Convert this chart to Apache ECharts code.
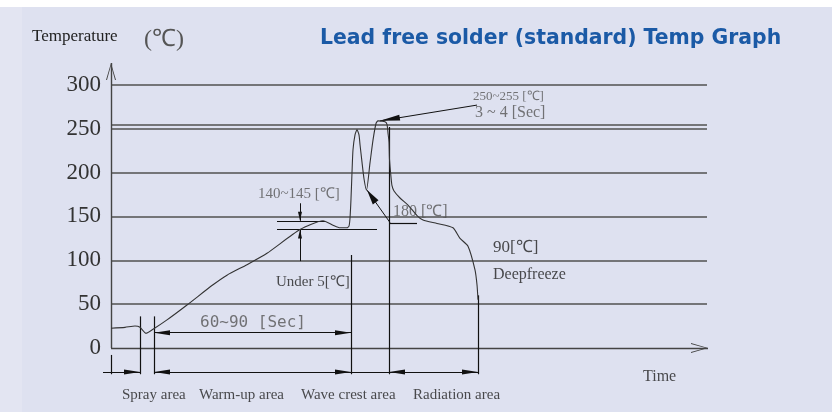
<!DOCTYPE html>
<html>
<head>
<meta charset="utf-8">
<script src="https://cdn.jsdelivr.net/npm/echarts@6/dist/echarts.min.js"></script>
<style>
  html, body { margin: 0; padding: 0; background: #fff; }
  #main {
    width: 832px; height: 412px;
    background:
      linear-gradient(to bottom, #fff 0, #fff 7px, transparent 7px),
      linear-gradient(to right, #e3e5f2 0, #e3e5f2 22px, #dee1f0 22px);
  }
</style>
</head>
<body>
<div id="main"></div>
<script>
// temperature axis
const tempTicks = [0, 50, 100, 150, 200, 250, 300];
const gridTemps = [50, 100, 150, 200, 250, 255, 300];

// reflow curve (time units, °C)
const curveTime = [0, 14, 24, 29, 35, 42, 56, 76, 102, 116, 136, 156, 189, 212, 222, 229, 236,
  238, 239, 240, 241, 242, 244, 246, 248, 249, 251, 253, 255.5, 259, 262, 265, 267, 274, 276,
  277, 278, 278.5, 280, 281, 283, 289, 297, 306, 312, 326, 342, 349, 357, 364, 366, 367];
const curveTemp = [22.5, 23.5, 25, 23.6, 16.7, 21.3, 32, 49, 72, 83, 95, 108, 135, 145, 140, 137, 137,
  139, 148, 170, 200, 226, 243, 249, 243, 232, 212, 193, 180, 211, 237, 256, 259, 258, 255,
  245, 235, 215, 195, 185, 179, 171, 163, 151, 146, 142, 137, 125, 116, 89, 72, 55];

// areas along the time axis
const zoneBounds = [0, 29, 43, 240, 278, 367];
const zoneBoundTops = [-8, 36, 36, 106, 252, 60];
const zoneBoundBottom = -30;
const zoneLineTemp = -27.4;
const zoneNames = ['Spray area', 'Warm-up area', 'Wave crest area', 'Radiation area'];
const zoneLabelTimes = [11, 88, 190, 302];
const zoneLabelTemp = -53.6;

// preheat window
const soakStart = 166;
const soakTop = [145, 214];     // temp, end time
const soakBottom = [135, 266];
const soakArrowTime = 189;
const preheatTemp = 17.4;       // level of the 60~90 sec line

// peak / 180 callouts
const peakArrow = [[366, 277], [269, 259]];
const liquidArrow = [[279, 143], [256, 180]];
const liquidUnderline = [[279, 142], [306, 142]];

const timeMin = -20;
const timeMax = 597;
const tempMax = 325;

// annotation texts
const noteTexts = ['250~255 [℃]', '3 ~ 4 [Sec]', '140~145 [℃]', '180 [℃]', 'Under 5[℃]',
  '90[℃]', 'Deepfreeze', '60~90 [Sec]', 'Time'];
const noteTimes = [362, 364, 147, 282, 165, 382, 382, 89, 532];
const noteTemps = [287, 268, 175.7, 155, 75.3, 114, 83.3, 28.5, -33];

const serif = "'Liberation Serif', 'Times New Roman', serif";
const noteFonts = [
  { fontSize: 13, color: '#555' },
  { fontSize: 16, color: '#555' },
  { fontSize: 15, color: '#555' },
  { fontSize: 16, color: '#555' },
  { fontSize: 15, color: '#222' },
  { fontSize: 17, color: '#222' },
  { fontSize: 16, color: '#222' },
  { fontSize: 16, color: '#555', fontFamily: "'DejaVu Sans Mono', monospace" },
  { fontSize: 16, color: '#222' },
];

const openArrow = 'path://M5,0L10,17L9,17L5,2.4L1,17L0,17Z';

// end symbol helper, tip of the symbol sits on the line end
const head = (symbol, w, h) => ({ symbol, symbolSize: [w, h], symbolOffset: [0, h / 2] });
const bare = { symbol: 'none' };

const marks = (name, lines, color, width, fromEnd = bare, toEnd = bare) => ({
  type: 'line',
  name,
  data: [],
  silent: true,
  animation: false,
  markLine: {
    silent: true,
    animation: false,
    label: { show: false },
    emphasis: { disabled: true },
    lineStyle: { color, width, type: 'solid' },
    data: lines.map((l) => [
      Object.assign({ coord: l[0] }, fromEnd),
      Object.assign({ coord: l[1] }, toEnd),
    ]),
  },
});

const myChart = echarts.init(document.getElementById('main'));

const gridLines = gridTemps.map((t) => [[0, t], [timeMax - 1, t]]);

const plainLines = zoneBounds.map((t, i) => [[t, zoneBoundTops[i]], [t, zoneBoundBottom]]);
plainLines.push([[zoneBounds[3], zoneLineTemp], [zoneBounds[4], zoneLineTemp]]);
plainLines.push([[soakStart, soakTop[0]], [soakTop[1], soakTop[0]]]);
plainLines.push([[soakStart, soakBottom[0]], [soakBottom[1], soakBottom[0]]]);
plainLines.push(liquidUnderline);

const twoWay = [
  [[zoneBounds[2], zoneLineTemp], [zoneBounds[3], zoneLineTemp]],
  [[zoneBounds[4], zoneLineTemp], [zoneBounds[5], zoneLineTemp]],
  [[zoneBounds[2], preheatTemp], [zoneBounds[3], preheatTemp]],
];

const option = {
  animation: false,
  grid: { left: 91, right: 121, top: 63, bottom: 2.7, containLabel: false, outerBoundsMode: 'none' },
  xAxis: {
    type: 'value', min: timeMin, max: 600,
    axisLine: { show: false }, axisTick: { show: false }, axisLabel: { show: false }, splitLine: { show: false },
  },
  yAxis: {
    type: 'value', min: -70, max: tempMax,
    offset: timeMin,
    axisLine: { show: false, onZero: false },
    axisTick: { show: false },
    splitLine: { show: false },
    axisLabel: {
      customValues: tempTicks,
      fontFamily: serif, fontSize: 23, color: '#333', margin: 10,
    },
  },
  graphic: [
    { type: 'text', x: 32, y: 37, style: { text: 'Temperature', font: `17px ${serif}`, fill: '#222', verticalAlign: 'middle' } },
    { type: 'text', x: 144, y: 40, style: { text: '(℃)', font: `24px ${serif}`, fill: '#555', verticalAlign: 'middle' } },
    { type: 'text', x: 320, y: 39, style: { text: 'Lead free solder (standard) Temp Graph', font: "bold 20.4px 'DejaVu Sans'", fill: '#1b5aa6', verticalAlign: 'middle' } },
  ],
  series: [
    marks('grid', gridLines, '#505050', 1.5),
    marks('axes', [[[0, 0], [0, tempMax]], [[0, 0], [timeMax, 0]]], '#444', 1.4, bare, head(openArrow, 10, 17)),
    marks('bounds', plainLines, '#111', 1.2),
    marks('dims', twoWay, '#111', 1, head('triangle', 5, 16), head('triangle', 5, 16)),
    marks('spray', [[[-8, zoneLineTemp], [zoneBounds[1], zoneLineTemp]]], '#111', 1, bare, head('triangle', 5, 16)),
    marks('soakArrows', [
      [[soakArrowTime, 165], [soakArrowTime, soakTop[0]]],
      [[soakArrowTime, 99], [soakArrowTime, soakBottom[0]]],
    ], '#111', 1, bare, head('triangle', 4, 9)),
    marks('peakArrow', [peakArrow], '#111', 1, bare, head('triangle', 6, 20)),
    marks('liquidArrow', [liquidArrow], '#111', 1, bare, head('triangle', 7, 15)),
    {
      type: 'line',
      name: 'curve',
      data: curveTime.map((t, i) => [t, curveTemp[i]]),
      showSymbol: false,
      smooth: 0.2,
      silent: true,
      lineStyle: { color: '#333', width: 1.1 },
      z: 5,
    },
    {
      type: 'scatter',
      name: 'notes',
      symbolSize: 0,
      silent: true,
      data: noteTexts.map((txt, i) => ({
        value: [noteTimes[i], noteTemps[i], txt],
        label: Object.assign({ fontFamily: serif }, noteFonts[i]),
      })).concat(zoneNames.map((txt, i) => ({
        value: [zoneLabelTimes[i], zoneLabelTemp, txt],
        label: { fontFamily: serif, fontSize: 15, color: '#222' },
      }))),
      label: {
        show: true,
        position: [0, 0],
        align: 'left',
        verticalAlign: 'middle',
        formatter: (p) => p.value[2],
      },
    },
  ],
};

myChart.setOption(option);
window.addEventListener('resize', () => {
  myChart.resize();
});
</script>
</body>
</html>
